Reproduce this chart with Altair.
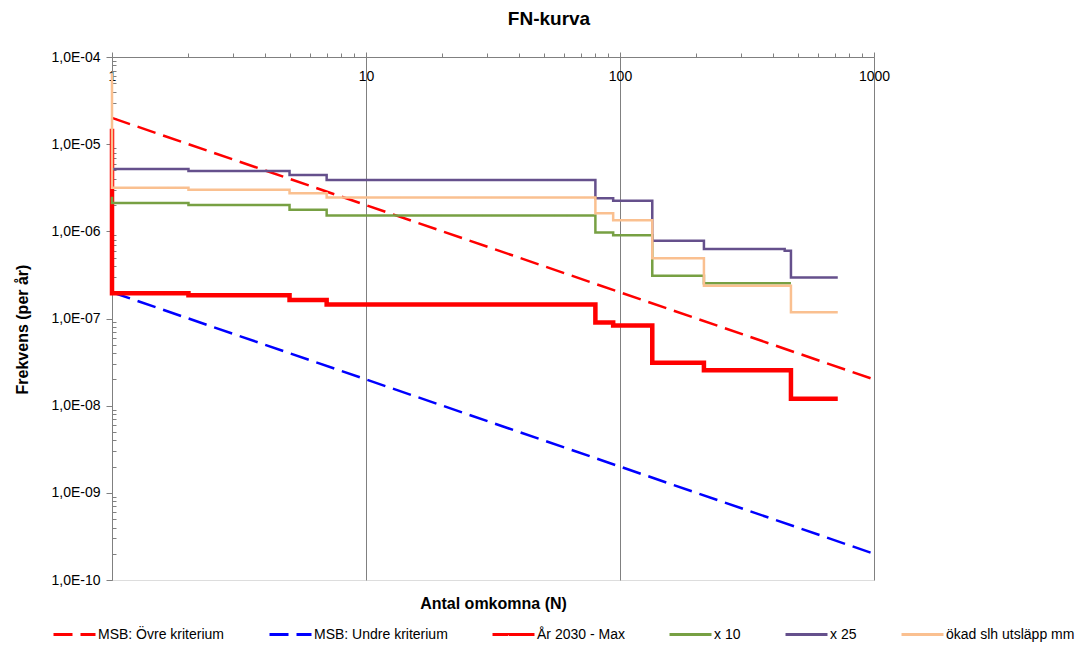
import altair as alt
import pandas as pd

series_names = ["MSB: Övre kriterium", "MSB: Undre kriterium", "År 2030 - Max",
                "x 10", "x 25", "ökad slh utsläpp mm"]
colors = ["#FF0000", "#0000FF", "#FF0000", "#77A043", "#65508C", "#FAC090"]
dashes = [[19, 8], [19, 8], [1, 0], [1, 0], [1, 0], [1, 0]]
widths = [2.5, 2.5, 4.5, 2.5, 2.5, 2.5]

ovre_n = [1, 1000]
ovre_f = [2e-5, 2e-8]
undre_n = [1, 1000]
undre_f = [2e-7, 2e-10]
max_n = [1, 1, 2, 5, 7, 80, 94, 134, 214, 471, 720]
max_f = [1.5e-5, 1.95e-7, 1.85e-7, 1.63e-7, 1.45e-7, 9.0e-8, 8.3e-8, 3.1e-8, 2.55e-8, 1.2e-8, 1.2e-8]
x10_n = [1, 1, 2, 5, 7, 80, 94, 134, 214, 471]
x10_f = [2.5e-6, 2.11e-6, 2.0e-6, 1.77e-6, 1.52e-6, 9.7e-7, 9.0e-7, 3.1e-7, 2.53e-7, 2.53e-7]
x25_n = [1, 2, 5, 7, 80, 94, 134, 214, 445, 471, 720]
x25_f = [5.2e-6, 4.92e-6, 4.43e-6, 3.88e-6, 2.39e-6, 2.25e-6, 7.8e-7, 6.27e-7, 6.0e-7, 2.95e-7, 2.95e-7]
okad_n = [1, 1, 2, 5, 7, 80, 94, 134, 214, 471, 720]
okad_f = [6.5e-5, 3.17e-6, 3.0e-6, 2.73e-6, 2.45e-6, 1.61e-6, 1.34e-6, 4.9e-7, 2.38e-7, 1.18e-7, 1.18e-7]

x_major = [1, 10, 100, 1000]
x_minor = [m * 10 ** d for d in range(0, 3) for m in range(2, 10)]
y_major = [1e-4, 1e-5, 1e-6, 1e-7, 1e-8, 1e-9, 1e-10]
y_minor = [m * 10.0 ** d for d in range(-10, -4) for m in range(2, 10)]

all_series = [(ovre_n, ovre_f), (undre_n, undre_f), (max_n, max_f),
              (x10_n, x10_f), (x25_n, x25_f), (okad_n, okad_f)]
rows = []
for name, w, (ns, fs) in zip(series_names, widths, all_series):
    for i, (n, f) in enumerate(zip(ns, fs)):
        rows.append({"series": name, "N": n, "F": f, "idx": i, "w": w})
df = pd.DataFrame(rows)

FONT = "Liberation Sans"

xscale = alt.Scale(type="log", domain=[1, 1000], nice=False)
yscale = alt.Scale(type="log", domain=[1e-10, 1e-4], nice=False)

legend = alt.Legend(title=None, orient="none", legendX=-60, legendY=555,
                    direction="horizontal", columns=6, gridAlign="none",
                    symbolType="stroke", symbolSize=1764, columnPadding=38,
                    symbolStrokeWidth=3,
                    labelFont=FONT, labelFontSize=14, labelColor="black",
                    labelOffset=1, padding=0)

main_x_axis = alt.Axis(orient="top", values=x_major, format="d", labelFlush=False,
                       labelPadding=-24, labelBaseline="middle", tickSize=5,
                       tickColor="#808080", domainColor="#808080", grid=True,
                       gridColor="#808080", gridWidth=1, labelFont=FONT,
                       labelFontSize=14, labelColor="black",
                       title="Antal omkomna (N)", titleY=554, titleFont=FONT,
                       titleFontSize=16, titleFontWeight="bold", titleColor="black")
label_expr = ("'1,0E-' + (round(log(datum.value)/LN10) > -10 ? '0' : '') + "
              "(-round(log(datum.value)/LN10))")
main_y_axis = alt.Axis(orient="left", values=y_major, labelExpr=label_expr,
                       tickSize=6, labelPadding=6, grid=False,
                       tickColor="#808080", domainColor="#808080",
                       labelFont=FONT, labelFontSize=14, labelColor="black",
                       title="Frekvens (per år)", titleX=-82, titleY=272,
                       titleFont=FONT, titleFontSize=16, titleFontWeight="bold",
                       titleColor="black")


def enc(chart, xaxis=None, yaxis=None):
    return chart.encode(
        x=alt.X("N:Q", scale=xscale, axis=xaxis),
        y=alt.Y("F:Q", scale=yscale, axis=yaxis),
        color=alt.Color("series:N", scale=alt.Scale(domain=series_names, range=colors), legend=legend),
        strokeDash=alt.StrokeDash("series:N", scale=alt.Scale(domain=series_names, range=dashes), legend=legend),
        strokeWidth=alt.StrokeWidth("w:Q", scale=None, legend=None),
        order=alt.Order("idx:Q"),
    )


layers = []
for k, name in enumerate(series_names):
    interp = "linear" if k < 2 else "step-after"
    base = alt.Chart(df).transform_filter(alt.datum.series == name).mark_line(interpolate=interp)
    if k == 0:
        layers.append(enc(base, main_x_axis, main_y_axis))
    else:
        layers.append(enc(base))

minor = alt.Chart(df).mark_line(opacity=0).encode(
    x=alt.X("N:Q", scale=xscale,
            axis=alt.Axis(orient="top", values=x_minor, labels=False, tickSize=4,
                          domain=False, grid=False, title=None, tickColor="#808080")),
    y=alt.Y("F:Q", scale=yscale,
            axis=alt.Axis(orient="left", values=y_minor, labels=False, tickSize=4,
                          offset=-4, domain=False, grid=False, title=None,
                          tickColor="#808080")),
    detail="series:N",
)

chart = alt.layer(*layers, minor).resolve_axis(
    x="independent", y="independent"
).properties(
    width=762, height=523,
    autosize=alt.AutoSizeParams(type="none"),
    padding={"left": 112, "top": 57, "right": 210, "bottom": 67},
    title=alt.TitleParams("FN-kurva", font=FONT, fontSize=19, fontWeight="bold",
                          color="black", anchor="middle", dx=56, offset=21),
).configure_view(stroke="#808080", strokeWidth=1).configure(background="white")

chart.save("out.html", embed_options={"renderer": "svg", "actions": False})
